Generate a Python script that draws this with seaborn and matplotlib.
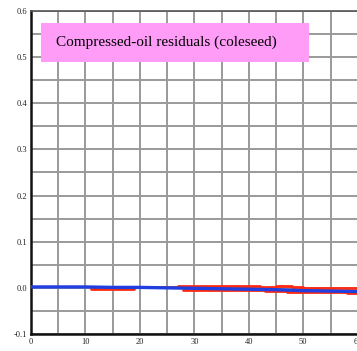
import numpy as np
import pandas as pd
import matplotlib
matplotlib.use("Agg")
import matplotlib.pyplot as plt
from matplotlib.ticker import MultipleLocator
from matplotlib.patches import Rectangle
import seaborn as sns

##### Data

blue_x = [0, 5, 10, 15, 20, 25, 30, 35, 40, 45, 50, 55, 60]
blue_y = [0.002, 0.002, 0.002, 0.001, 0.001, 0.0, -0.001, -0.002, -0.003, -0.004, -0.006, -0.007, -0.008]

red_up_x = [11, 18, 19, 27, 35, 42, 45, 48, 50, 55, 60]
red_up_y = [-0.002, -0.002, 0.001, 0.003, 0.003, 0.002, 0.003, 0.001, -0.001, -0.001, -0.001]

red_lo_x = [28, 35, 43, 47, 52, 58, 60]
red_lo_y = [-0.005, -0.005, -0.007, -0.008, -0.010, -0.012, -0.014]

title = "Compressed-oil residuals (coleseed)"

##### Plot

sns.set_style("white")
plt.rcParams["font.family"] = ["Liberation Serif", "DejaVu Serif"]

fig = plt.figure(figsize=(3.57, 3.51), dpi=100)
ax = fig.add_axes([31 / 357, 17 / 351, 354 / 357, 323 / 351])

df_blue = pd.DataFrame({"x": blue_x, "y": blue_y})
df_up = pd.DataFrame({"x": red_up_x, "y": red_up_y})
df_lo = pd.DataFrame({"x": red_lo_x, "y": red_lo_y})

sns.lineplot(data=df_up, x="x", y="y", ax=ax, color="#ff2a10", linewidth=2.0,
             drawstyle="steps-post", errorbar=None, zorder=3)
sns.lineplot(data=df_lo, x="x", y="y", ax=ax, color="#ff2a10", linewidth=2.0,
             drawstyle="steps-post", errorbar=None, zorder=3)
sns.lineplot(data=df_blue, x="x", y="y", ax=ax, color="#1f3fe0", linewidth=2.4,
             errorbar=None, zorder=4)

ax.set_xlim(0, 65)
ax.set_ylim(-0.1, 0.6)
ax.xaxis.set_major_locator(MultipleLocator(10))
ax.xaxis.set_minor_locator(MultipleLocator(5))
ax.yaxis.set_major_locator(MultipleLocator(0.1))
ax.yaxis.set_minor_locator(MultipleLocator(0.05))
ax.yaxis.set_major_formatter(matplotlib.ticker.FormatStrFormatter("%.1f"))
ax.grid(which="both", color="#9a9a9a", linewidth=1.4)
ax.set_axisbelow(True)
ax.tick_params(which="both", length=0, labelsize=6, pad=3, labelcolor="#222222")
ax.set_xlabel("")
ax.set_ylabel("")

for side in ["left", "bottom"]:
    ax.spines[side].set_color("#111111")
    ax.spines[side].set_linewidth(1.8)
ax.spines["top"].set_color("#555555")
ax.spines["top"].set_linewidth(1.2)
ax.spines["right"].set_visible(False)

# pink title box
ax.add_patch(Rectangle((0.027, 0.843), 0.757, 0.121, transform=ax.transAxes,
                       facecolor="#ff9cf8", edgecolor="none", zorder=5))
ax.text(0.072, 0.902, title, transform=ax.transAxes, fontsize=11,
        va="center", ha="left", color="black", zorder=6)

plt.savefig("out.png", dpi=100)
